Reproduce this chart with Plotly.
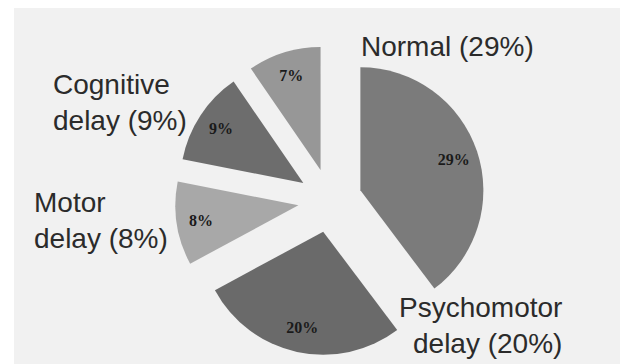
import plotly.graph_objects as go

# ---- data ----
categories = ["Normal", "Psychomotor delay", "Motor delay", "Cognitive delay", "Other"]
values = [29, 20, 8, 9, 7]
outer_labels = ["Normal", "Psychomotor<br>delay", "Motor<br>delay", "Cognitive<br>delay", None]
slice_colors = ["#7b7b7b", "#6a6a6a", "#a8a8a8", "#6d6d6d", "#979797"]

W, H = 620, 364
pulls = [0.26] * len(values)
dom_x = [0.2823, 0.7823]
dom_y = [0.0234, 0.875]

fig = go.Figure()

# main slices
fig.add_trace(go.Pie(
    labels=categories, values=values, sort=False, direction="clockwise", rotation=0,
    pull=pulls, domain=dict(x=dom_x, y=dom_y),
    marker=dict(colors=slice_colors, line=dict(width=0)),
    textinfo="none", hoverinfo="label+value", showlegend=False,
))

# transparent ring carrying the inside percentage labels
fig.add_trace(go.Pie(
    labels=categories, values=values, sort=False, direction="clockwise", rotation=0,
    pull=pulls, domain=dict(x=dom_x, y=dom_y), hole=0.6,
    marker=dict(colors=["rgba(0,0,0,0)"] * len(values), line=dict(width=0)),
    text=[f"{v}%" for v in values], textinfo="text", textposition="inside",
    insidetextorientation="horizontal",
    insidetextfont=dict(family="Liberation Serif", size=16, color="#1a1a1a", weight="bold"),
    hoverinfo="skip", showlegend=False,
))

# grey panel background
fig.add_shape(type="rect", xref="paper", yref="paper", x0=14 / W, x1=1, y0=0, y1=1 - 8 / H,
              fillcolor="#f1f1f1", line=dict(width=0), layer="below")

# outer labels (position in pixels of the text block)
label_pos = [
    (359, 46, "left", "left"),
    (564, 325, "right", "right"),
    (32, 221, "left", "left"),
    (51, 102, "left", "left"),
]
for name, v, pos in zip(outer_labels, values, label_pos + [None]):
    if name is None:
        continue
    px, py, xa, al = pos
    fig.add_annotation(
        x=px / W, y=1 - py / H, xref="paper", yref="paper",
        text=f"{name} ({v}%)", showarrow=False, xanchor=xa, yanchor="middle", align=al,
        font=dict(family="Liberation Sans", size=28, color="#2b2b2b"),
    )

fig.update_layout(
    width=W, height=H, margin=dict(l=0, r=0, t=0, b=0),
    paper_bgcolor="white", plot_bgcolor="white",
)

fig.write_html("out.html")
